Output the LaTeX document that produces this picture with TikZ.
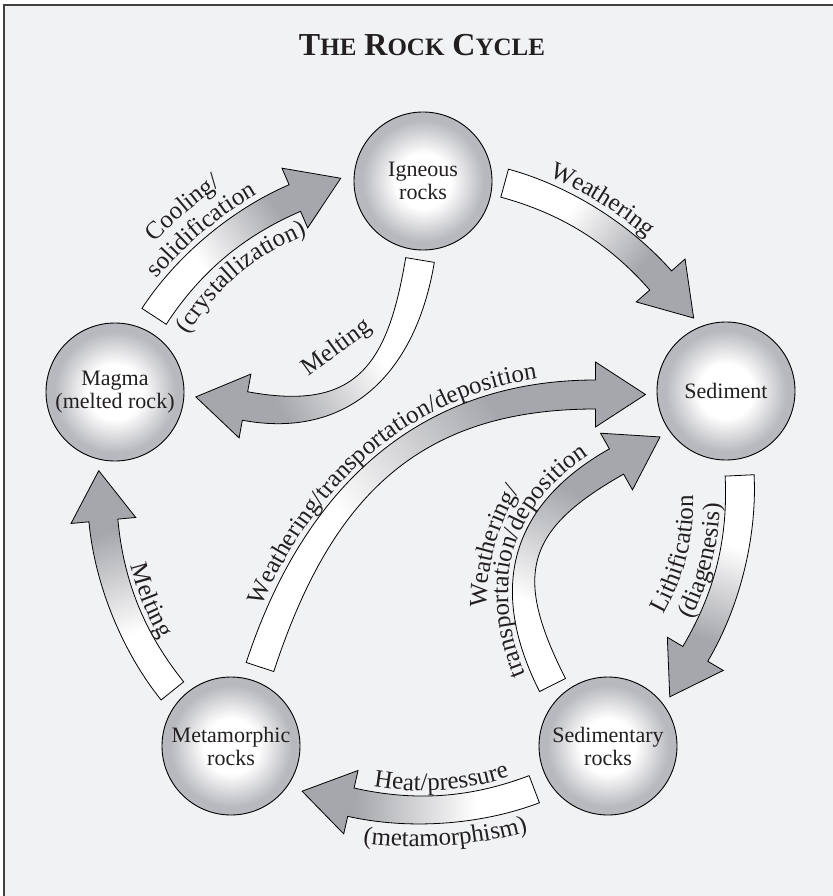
\documentclass[tikz,border=0pt]{standalone}
\usepackage{fontspec}
\setmainfont{Liberation Serif}
\usepackage{tikz}
\usetikzlibrary{calc, decorations.text}

\definecolor{paper}{RGB}{241,242,244}
\definecolor{ballgray}{RGB}{184,185,190}
\definecolor{headgray}{RGB}{166,167,172}
\definecolor{ink}{RGB}{35,31,32}

\pgfdeclareradialshading{rockball}{\pgfpoint{0bp}{0bp}}{%
  color(0bp)=(white); color(10bp)=(white); color(22bp)=(ballgray);
  color(50bp)=(ballgray)}
\pgfdeclareverticalshading{rockflow}{100bp}{%
  color(0bp)=(white); color(38bp)=(white); color(64bp)=(headgray);
  color(100bp)=(headgray)}

\newcommand{\lbl}{\fontsize{25}{27}\selectfont}
\newcommand{\smc}[1]{{\fontsize{25}{25}\selectfont #1}}

% block arrow: tail, control, control, head base, shading angle
\newcommand{\rockarrow}[5]{%
  \path[flow, shading angle = #5]
    ($(#1)!14.5pt!90:(#2)$) .. controls ($(#2)!14.5pt!-90:(#1)$)
      and ($(#3)!14.5pt!90:(#4)$) .. ($(#4)!14.5pt!-90:(#3)$)
    -- ($(#4)!32.5pt!-90:(#3)$) -- ($(#4)!-50pt!(#3)$)
    -- ($(#4)!32.5pt!90:(#3)$) -- ($(#4)!14.5pt!90:(#3)$)
    .. controls ($(#3)!14.5pt!-90:(#4)$) and ($(#2)!14.5pt!90:(#1)$)
    .. ($(#1)!14.5pt!-90:(#2)$) -- cycle;}

% curved label: same four points, side offset, text
\newcommand{\flowlabel}[6]{%
  \path[flowtext, decoration = {text = {|\lbl|#6}}]
    ($(#1)!#5!90:(#2)$) .. controls ($(#2)!#5!-90:(#1)$)
      and ($(#3)!#5!90:(#4)$) .. ($(#4)!#5!-90:(#3)$);}

\begin{document}
\begin{tikzpicture}[
    x = 1pt, y = -1pt,
    rock/.style = {circle, draw = black, line width = 0.9pt, minimum size = 138pt,
      inner sep = 1pt, shade, shading = rockball, align = center, text = ink,
      font = \fontsize{22}{23}\selectfont},
    flow/.style = {draw = black, line width = 0.8pt, line join = miter,
      shade, shading = rockflow},
    flowtext/.style = {decorate, decoration = {text along path,
      text align = center, text color = ink}}
  ]
  \useasboundingbox (0,0) rectangle (832,896);
  \fill[paper] (4,5) rectangle (840,905);
  \draw[line width = 1.2pt, black!75] (4,905) -- (4,5) -- (840,5);

  \node[text = ink, font = \bfseries\fontsize{32}{32}\selectfont] (title) at (422,45)
    {T\smc{HE} R\smc{OCK} C\smc{YCLE}};

  % the five rocks
  \node[rock] (ign)   at (423,181) {Igneous\\rocks};
  \node[rock] (sed)   at (726,391) {Sediment};
  \node[rock] (sedr)  at (608,746) {Sedimentary\\rocks};
  \node[rock] (meta)  at (231,746) {Metamorphic\\rocks};
  \node[rock] (magma) at (115,392) {Magma\\(melted rock)};

  % outer cycle arrows
  \coordinate (O) at (421,491);
  \foreach \a/\nm in {-162/cool, -90/weath, -18/lith, 54/heat, 126/meltout} {
    \coordinate (\nm0) at ($(O)+(\a+15.2:319)$);
    \coordinate (\nm3) at ($(O)+(\a+48.7:319)$);
    \coordinate (\nm1) at ($(\nm0)+(\a+105.2:62.6)$);
    \coordinate (\nm2) at ($(\nm3)+(\a-41.3:62.6)$);
    \pgfmathsetmacro{\sh}{-\a-216.45}
    \rockarrow{\nm0}{\nm1}{\nm2}{\nm3}{\sh}
  }

  % inner arrows
  \coordinate (mt0) at (420,260);   \coordinate (mt1) at (402,368.5);
  \coordinate (mt2) at (353,426);   \coordinate (mt3) at (245,406);
  \rockarrow{mt0}{mt1}{mt2}{mt3}{121}
  \coordinate (wl0) at (260,667);   \coordinate (wl1) at (316,496);
  \coordinate (wl2) at (415.5,394.5); \coordinate (wl3) at (595.5,394.5);
  \rockarrow{wl0}{wl1}{wl2}{wl3}{-54.9}
  \coordinate (ws0) at (552.5,685); \coordinate (ws1) at (500.8,582.6);
  \coordinate (ws2) at (516.5,517.9); \coordinate (ws3) at (616.5,461.5);
  \rockarrow{ws0}{ws1}{ws2}{ws3}{-23.4}

  % Put the processes on the arrows
  \flowlabel{cool0}{cool1}{cool2}{cool3}{20pt}{solidification}
  \flowlabel{cool0}{cool1}{cool2}{cool3}{47pt}{Cooling/}
  \flowlabel{cool0}{cool1}{cool2}{cool3}{-38pt}{(crystallization)}
  \flowlabel{weath0}{weath1}{weath2}{weath3}{21pt}{Weathering}
  \flowlabel{lith3}{lith2}{lith1}{lith0}{20pt}{(diagenesis)}
  \flowlabel{lith3}{lith2}{lith1}{lith0}{47pt}{Lithification}
  \flowlabel{heat3}{heat2}{heat1}{heat0}{20pt}{Heat/pressure}
  \flowlabel{heat3}{heat2}{heat1}{heat0}{-38pt}{(metamorphism)}
  \flowlabel{meltout3}{meltout2}{meltout1}{meltout0}{20pt}{Melting}
  \node[text = ink, font = \lbl, rotate = 36] (meltin) at (337,348) {Melting};
  \flowlabel{wl0}{wl1}{wl2}{wl3}{20pt}{Weathering/transportation/deposition}
  \flowlabel{ws0}{ws1}{ws2}{ws3}{20pt}{transportation/deposition}
  \flowlabel{ws0}{ws1}{ws2}{ws3}{47pt}{Weathering/}
\end{tikzpicture}
\end{document}
